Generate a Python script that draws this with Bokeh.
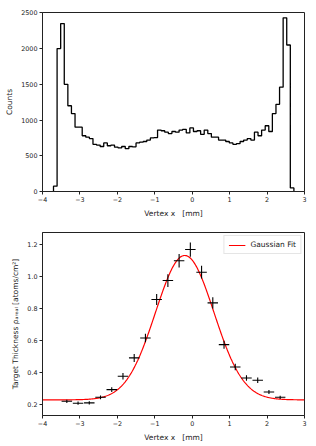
import numpy as np
from bokeh.plotting import figure
from bokeh.layouts import column
from bokeh.models import Range1d, FixedTicker, Label, CustomJSTickFormatter, Legend, LegendItem
from bokeh.embed import file_html
from bokeh.resources import INLINE

FONT = "DejaVu Sans"

# ---------------- data: top histogram ----------------
hist_lo = -3.706
hist_hi = 2.717
hist_counts = [75, 2000, 2350, 1500, 1200, 1090, 900, 900, 780, 760,
               740, 660, 650, 630, 680, 640, 650, 620, 610, 630,
               600, 630, 625, 680, 690, 700, 720, 750, 755, 860,
               850, 830, 810, 840, 830, 860, 870, 820, 890, 840,
               850, 800, 860, 810, 760, 760, 720, 720, 700, 680,
               660, 670, 700, 720, 740, 720, 830, 780, 860, 920,
               840, 1090, 1220, 1460, 2430, 2050, 50]
top_xticks = [-4, -3, -2, -1, 0, 1, 2, 3]
top_yticks = [0, 500, 1000, 1500, 2000, 2500]

# ---------------- data: bottom profile ----------------
prof_x = [-3.35, -3.05, -2.75, -2.45, -2.15, -1.85, -1.55, -1.25, -0.95, -0.65,
          -0.35, -0.05, 0.25, 0.55, 0.85, 1.15, 1.45, 1.75, 2.05, 2.35]
prof_x_err = [0.14] * 20
prof_rho = [0.219, 0.207, 0.209, 0.244, 0.292, 0.376, 0.491, 0.616, 0.857, 0.976,
            1.100, 1.170, 1.028, 0.836, 0.574, 0.434, 0.365, 0.351, 0.277, 0.244]  # x 1e18
prof_rho_err = [0.010, 0.010, 0.010, 0.012, 0.015, 0.020, 0.025, 0.027, 0.035, 0.040,
                0.042, 0.045, 0.040, 0.035, 0.025, 0.020, 0.017, 0.017, 0.013, 0.010]
fit_offset = 0.228
fit_amp = 0.905
fit_mu = -0.20
fit_sigma = 0.78
bot_xticks = [-4, -3, -2, -1, 0, 1, 2, 3]
bot_yticks = [0.2, 0.4, 0.6, 0.8, 1.0, 1.2]

int_fmt = CustomJSTickFormatter(code="return (tick < 0 ? '\u2212' : '') + Math.abs(tick).toFixed(0);")
dec_fmt = CustomJSTickFormatter(code="return (tick < 0 ? '\u2212' : '') + Math.abs(tick).toFixed(1);")

XLABEL = "Vertex x \u00a0\u00a0[mm]"


def style(p, xticks, yticks, yfmt, xlabel, ylabel):
    p.xaxis.ticker = FixedTicker(ticks=xticks)
    p.yaxis.ticker = FixedTicker(ticks=yticks)
    p.xaxis.formatter = int_fmt
    p.yaxis.formatter = yfmt
    p.xaxis.axis_label = xlabel
    p.yaxis.axis_label = ylabel
    for ax in (p.xaxis, p.yaxis):
        ax.axis_line_color = "#222222"
        ax.major_tick_line_color = "#222222"
        ax.minor_tick_line_color = None
        ax.major_tick_out = 3
        ax.major_tick_in = 0
        ax.major_label_standoff = 2
        ax.axis_label_standoff = 4
        ax.major_label_text_font = FONT
        ax.major_label_text_font_size = "6.4px"
        ax.major_label_text_color = "#222222"
        ax.axis_label_text_font = FONT
        ax.axis_label_text_font_size = "7.5px"
        ax.axis_label_text_font_style = "normal"
        ax.axis_label_text_color = "#222222"
    p.xgrid.visible = False
    p.ygrid.visible = False
    p.outline_line_color = "#222222"
    p.outline_line_width = 1
    p.background_fill_color = "white"
    p.border_fill_color = "white"


# ---------------- top figure ----------------
p1 = figure(width=308, height=220, output_backend="svg", toolbar_location=None,
            x_range=Range1d(-4, 3), y_range=Range1d(0, 2505),
            min_border_left=42, min_border_right=4, min_border_top=12, min_border_bottom=24)
edges = np.linspace(hist_lo, hist_hi, len(hist_counts) + 1)
step_x = [edges[0]] + list(edges)
step_y = [0] + list(hist_counts) + [0]
p1.step(step_x, step_y, mode="after", line_color="black", line_width=1.3)
style(p1, top_xticks, top_yticks, int_fmt, XLABEL, "Counts")

# ---------------- bottom figure ----------------
p2 = figure(width=308, height=224, output_backend="svg", toolbar_location=None,
            x_range=Range1d(-4, 3), y_range=Range1d(0.13, 1.277),
            min_border_left=42, min_border_right=4, min_border_top=12, min_border_bottom=24)
fx = np.linspace(-4, 3, 400)
fy = fit_offset + fit_amp * np.exp(-0.5 * ((fx - fit_mu) / fit_sigma) ** 2)
fit_r = p2.line(fx, fy, line_color="#ff0000", line_width=1.2)
px = np.array(prof_x)
pxe = np.array(prof_x_err)
py = np.array(prof_rho)
pye = np.array(prof_rho_err)
p2.segment(px - pxe, py, px + pxe, py, line_color="black", line_width=1.1)
p2.segment(px, py - pye, px, py + pye, line_color="black", line_width=1.1)
style(p2, bot_xticks, bot_yticks, dec_fmt, XLABEL,
      "Target Thickness \u03c1\u2090\u1d63\u2091\u2090\u2097 [atoms/cm\u00b2]")

legend = Legend(items=[LegendItem(label="Gaussian Fit", renderers=[fit_r])],
                location="top_right", label_text_font=FONT, label_text_font_size="7.5px",
                label_text_color="#222222", glyph_width=17, glyph_height=8,
                label_standoff=5, padding=4, margin=3, spacing=0,
                border_line_color="#cccccc", border_line_width=1,
                background_fill_alpha=0.8, label_height=8)
p2.add_layout(legend, "center")

p2.add_layout(Label(x=-4, y=1.277, text="\u00d710\u00b9\u2078", text_font=FONT,
                    text_font_size="6.2px", text_color="#222222",
                    text_baseline="bottom", y_offset=1))

layout = column(p1, p2, spacing=0)
open("out.html", "w").write(file_html(layout, INLINE))
